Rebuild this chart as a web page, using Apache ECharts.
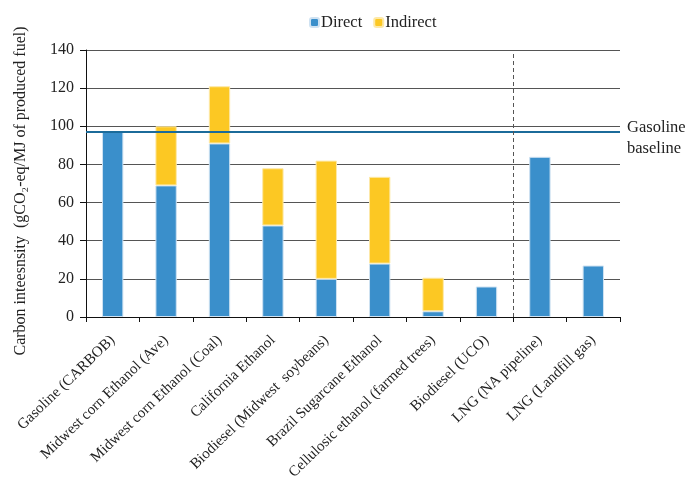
<!DOCTYPE html>
<html>
<head>
<meta charset="utf-8">
<script src="https://cdn.jsdelivr.net/npm/echarts@6/dist/echarts.min.js"></script>
<style>html,body{margin:0;padding:0;background:#fff}#c{width:689px;height:482px}</style>
</head>
<body>
<div id="c"></div>
<script>
const categories = ["Gasoline (CARBOB)", "Midwest corn Ethanol (Ave)", "Midwest corn Ethanol (Coal)", "California Ethanol", "Biodiesel (Midwest  soybeans)", "Brazil Sugarcane Ethanol", "Cellulosic ethanol (farmed trees)", "Biodiesel (UCO)", "LNG (NA pipeline)", "LNG (Landfill gas)"];
const direct = [97, 69, 91, 48, 20, 28, 3, 16, 84, 27];
const indirect = [0, 31, 30, 30, 62, 45.5, 17.6, 0, 0, 0];
const gasolineBaseline = 97;
const dividerPosition = 8; // boundary between biofuels and LNG (in category units)
const yTicks = { min: 0, max: 140, interval: 20 };

const FONT = "Liberation Serif";
const chart = echarts.init(document.getElementById('c'), null, { renderer: 'canvas' });
chart.setOption({
  animation: false,
  textStyle: { fontFamily: FONT, color: '#222' },
  legend: {
    top: 9, left: 304,
    itemWidth: 9, itemHeight: 9, itemGap: 11,
    textStyle: { fontFamily: FONT, fontSize: 16.5, color: '#222', padding: [0,0,0,-3] },
    data: ['Direct', 'Indirect']
  },
  grid: { left: 86, right: 69, top: 50, bottom: 165, containLabel: false, outerBoundsMode: 'none' },
  xAxis: [{
    type: 'category', data: categories,
    axisLine: { lineStyle: { color: '#111', width: 1 } },
    axisTick: { show: true, length: 5, lineStyle: { color: '#111' } },
    axisLabel: { rotate: 44, fontFamily: FONT, fontSize: 15, color: '#222', margin: 21, interval: 0 }
  }, {
    type: 'value', min: 0, max: 10, show: false
  }],
  yAxis: {
    type: 'value', min: yTicks.min, max: yTicks.max, interval: yTicks.interval,
    name: 'Carbon inteesnsity  (gCO₂-eq/MJ of produced fuel)',
    nameLocation: 'middle', nameGap: 57, nameRotate: 90,
    nameTextStyle: { fontFamily: FONT, fontSize: 16, color: '#222', padding: [0,15,0,0], backgroundColor: 'rgba(255,255,255,0)' },
    axisLine: { show: true, lineStyle: { color: '#111' } },
    axisTick: { show: true, length: 6, lineStyle: { color: '#111' } },
    axisLabel: { fontFamily: FONT, fontSize: 16, color: '#222', margin: 12 },
    splitLine: { lineStyle: { color: '#555', width: 1 } }
  },
  series: [{
    name: 'Direct', type: 'bar', stack: 'ci', data: direct.map(v => v || null), barWidth: '40%',
    itemStyle: { color: '#3a8fcb', borderColor: '#cfe2f2', borderWidth: 1 },
    markLine: {
      silent: true, symbol: 'none',
      lineStyle: { color: '#1b6b9a', width: 2, type: 'solid' },
      label: { show: true, position: 'end', formatter: 'Gasoline\nbaseline', fontFamily: FONT, fontSize: 16.5, color: '#222', lineHeight: 21, distance: 7, offset: [0, 6] },
      data: [{ yAxis: gasolineBaseline }]
    }
  }, {
    name: 'Indirect', type: 'bar', stack: 'ci', data: indirect.map(v => v || null), barWidth: '40%',
    itemStyle: { color: '#fcc823', borderColor: '#fde9a8', borderWidth: 1 }
  }, {
    name: 'divider', type: 'scatter', xAxisIndex: 1, data: [[dividerPosition, 0]], symbolSize: 0, silent: true,
    markLine: {
      silent: true, symbol: 'none',
      lineStyle: { color: '#555', width: 1, type: [4, 3] },
      label: { show: false },
      data: [{ xAxis: dividerPosition }]
    }
  }]
});
</script>
</body>
</html>
